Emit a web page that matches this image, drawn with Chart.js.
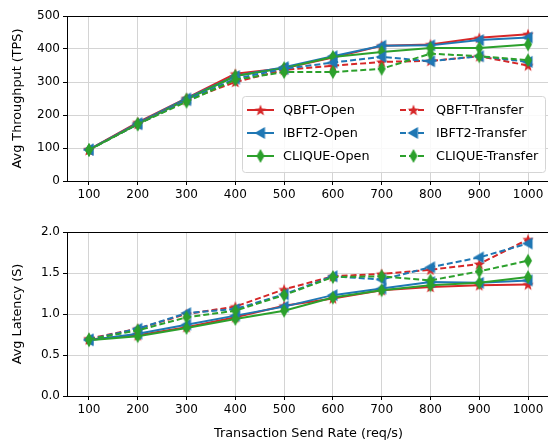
<!DOCTYPE html>
<html>
<head>
<meta charset="utf-8">
<script src="https://cdn.jsdelivr.net/npm/chart.js@4/dist/chart.umd.min.js"></script>
<style>
  html, body { margin: 0; padding: 0; background: #fff; }
  body { width: 548px; height: 445px; position: relative; overflow: hidden; }
  canvas { position: absolute; left: 0; }
  #tps { top: 0; }
  #lat { top: 215px; }
</style>
</head>
<body>
<canvas id="tps" width="558" height="210"></canvas>
<canvas id="lat" width="558" height="230"></canvas>
<script>
// --- DADOS ---
const sendRates = [100, 200, 300, 400, 500, 600, 700, 800, 900, 1000];

const tpsQbftOpen       = [95, 178, 251, 325, 342, 374, 410, 414, 434, 445];
const tpsIbft2Open      = [95, 175, 250, 318, 345, 378, 410, 411, 427, 435];
const tpsCliqueOpen     = [94, 172, 247, 318, 342, 376, 391, 403, 403, 414];
const tpsQbftTransfer   = [95, 173, 245, 300, 337, 349, 361, 364, 378, 350];
const tpsIbft2Transfer  = [95, 172, 245, 310, 340, 359, 376, 363, 378, 361];
const tpsCliqueTransfer = [94, 172, 240, 307, 330, 330, 340, 386, 378, 366];

const latQbftOpen       = [0.69, 0.74, 0.84, 0.96, 1.10, 1.19, 1.29, 1.33, 1.35, 1.36];
const latIbft2Open      = [0.68, 0.76, 0.87, 0.98, 1.09, 1.23, 1.31, 1.39, 1.38, 1.41];
const latCliqueOpen     = [0.68, 0.73, 0.83, 0.94, 1.04, 1.20, 1.29, 1.35, 1.38, 1.45];
const latQbftTransfer   = [0.70, 0.82, 1.00, 1.09, 1.30, 1.46, 1.49, 1.54, 1.61, 1.91];
const latIbft2Transfer  = [0.69, 0.82, 1.01, 1.06, 1.24, 1.46, 1.42, 1.57, 1.69, 1.86];
const latCliqueTransfer = [0.69, 0.80, 0.96, 1.04, 1.23, 1.45, 1.46, 1.41, 1.52, 1.65];

const tpsTicks = [0, 100, 200, 300, 400, 500];
const latTicks = [0, 0.5, 1.0, 1.5, 2.0];

const seriesLabels = ['QBFT-Open', 'IBFT2-Open', 'CLIQUE-Open', 'QBFT-Transfer', 'IBFT2-Transfer', 'CLIQUE-Transfer'];

const RED = '#d62728', BLUE = '#1f77b4', GREEN = '#2ca02c';
const FONT = 'DejaVu Sans';

// --- MARCADORES ---
function makeMarker(kind, color) {
    const c = document.createElement('canvas');
    c.width = 16; c.height = 16;
    const g = c.getContext('2d');
    g.fillStyle = color;
    g.beginPath();
    if (kind === 'star') {
        const R = 6, r = 2.5;
        for (let i = 0; i < 10; i++) {
            const rad = i % 2 === 0 ? R : r;
            const a = -Math.PI / 2 + i * Math.PI / 5;
            const x = 8 + rad * Math.cos(a), y = 8.6 + rad * Math.sin(a);
            i === 0 ? g.moveTo(x, y) : g.lineTo(x, y);
        }
    } else if (kind === 'tri') {
        g.moveTo(2, 8); g.lineTo(12.5, 2); g.lineTo(12.5, 14);
    } else {
        g.moveTo(8, 1); g.lineTo(12, 8); g.lineTo(8, 15); g.lineTo(4, 8);
    }
    g.closePath();
    g.fill();
    return c;
}

const styles = [
    { color: RED,   marker: makeMarker('star', RED),   dash: [] },
    { color: BLUE,  marker: makeMarker('tri', BLUE),   dash: [] },
    { color: GREEN, marker: makeMarker('dia', GREEN),  dash: [] },
    { color: RED,   marker: makeMarker('star', RED),   dash: [6, 3] },
    { color: BLUE,  marker: makeMarker('tri', BLUE),   dash: [6, 3] },
    { color: GREEN, marker: makeMarker('dia', GREEN),  dash: [6, 3] }
];

function buildDatasets(seriesList) {
    return seriesList.map((vals, i) => ({
        label: seriesLabels[i],
        data: vals.map((v, k) => ({ x: sendRates[k], y: v })),
        borderColor: styles[i].color,
        backgroundColor: styles[i].color,
        borderWidth: 2,
        borderDash: styles[i].dash,
        pointStyle: styles[i].marker,
        pointRadius: 6,
        tension: 0,
        order: seriesList.length - i
    }));
}

// moldura preta (caixa do matplotlib)
const framePlugin = {
    id: 'frame',
    afterDraw(chart) {
        const { ctx, chartArea: a } = chart;
        ctx.save();
        ctx.strokeStyle = '#000';
        ctx.lineWidth = 1;
        ctx.strokeRect(Math.round(a.left) + 0.5, Math.round(a.top) + 0.5,
            Math.round(a.right - a.left) - 1, Math.round(a.bottom - a.top));
        ctx.restore();
    }
};

// legenda dentro do gráfico, 2 colunas
const legendPlugin = {
    id: 'innerLegend',
    afterDraw(chart) {
        const ctx = chart.ctx;
        const box = { x: 242, y: 96, w: 303, h: 76 };
        ctx.save();
        ctx.fillStyle = 'rgba(255,255,255,0.85)';
        ctx.strokeStyle = '#d5d5d5';
        ctx.lineWidth = 1;
        ctx.beginPath();
        ctx.roundRect(box.x + 0.5, box.y + 0.5, box.w, box.h, 3);
        ctx.fill();
        ctx.stroke();
        ctx.font = '12.8px "' + FONT + '"';
        ctx.textBaseline = 'middle';
        ctx.fillStyle = '#000';
        const rows = [110, 133, 156];
        const cols = [{ lx: 247, tx: 283 }, { lx: 400, tx: 436 }];
        seriesLabels.forEach((lab, i) => {
            const col = cols[Math.floor(i / 3)], y = rows[i % 3];
            const st = styles[i];
            ctx.strokeStyle = st.color;
            ctx.lineWidth = 2;
            ctx.setLineDash(st.dash);
            ctx.beginPath();
            ctx.moveTo(col.lx, y);
            ctx.lineTo(col.lx + 27, y);
            ctx.stroke();
            ctx.setLineDash([]);
            ctx.drawImage(st.marker, col.lx + 13.5 - 8, y - 8);
            ctx.fillStyle = '#000';
            ctx.fillText(lab, col.tx, y + 1);
        });
        ctx.restore();
    }
};

function makeChart(id, seriesList, yTicks, yTitle, opts) {
    return new Chart(document.getElementById(id), {
        type: 'line',
        data: { datasets: buildDatasets(seriesList) },
        plugins: opts.legend ? [framePlugin, legendPlugin] : [framePlugin],
        options: {
            responsive: false,
            animation: false,
            devicePixelRatio: 1,
            layout: { padding: { top: opts.top, right: 6, left: 0, bottom: 0 } },
            plugins: { legend: { display: false }, tooltip: { enabled: false } },
            scales: {
                x: {
                    type: 'linear',
                    min: 55, max: 1045,
                    afterBuildTicks: ax => { ax.ticks = sendRates.map(v => ({ value: v })); },
                    afterFit: ax => { ax.height = opts.xh; },
                    border: { display: false },
                    grid: { color: '#d4d4d4', lineWidth: 1, tickColor: '#000', tickLength: 4 },
                    ticks: {
                        color: '#000', font: { family: FONT, size: 12 }, padding: 3, maxRotation: 0,
                        callback: v => String(v)
                    },
                    title: {
                        display: !!opts.xTitle, text: opts.xTitle || '', color: '#000',
                        font: { family: FONT, size: 12.8 }, padding: { top: 0, bottom: 4 }
                    }
                },
                y: {
                    min: yTicks[0], max: yTicks[yTicks.length - 1],
                    afterBuildTicks: ax => { ax.ticks = yTicks.map(v => ({ value: v })); },
                    afterFit: ax => { ax.width = 67; },
                    border: { display: false },
                    grid: { color: '#d4d4d4', lineWidth: 1, tickColor: '#000', tickLength: 4 },
                    ticks: {
                        color: '#000', font: { family: FONT, size: 12 }, padding: 3,
                        callback: v => opts.dec ? v.toFixed(1) : String(v)
                    },
                    title: {
                        display: true, text: yTitle, color: '#000',
                        font: { family: FONT, size: 12.8 }, padding: { top: 10, bottom: 0 }
                    }
                }
            }
        }
    });
}

makeChart('tps',
    [tpsQbftOpen, tpsIbft2Open, tpsCliqueOpen, tpsQbftTransfer, tpsIbft2Transfer, tpsCliqueTransfer],
    tpsTicks, 'Avg Throughput (TPS)', { top: 16, xh: 29, legend: true });

makeChart('lat',
    [latQbftOpen, latIbft2Open, latCliqueOpen, latQbftTransfer, latIbft2Transfer, latCliqueTransfer],
    latTicks, 'Avg Latency (S)', { top: 17, xh: 49, dec: true, xTitle: 'Transaction Send Rate (req/s)' });
</script>
</body>
</html>
